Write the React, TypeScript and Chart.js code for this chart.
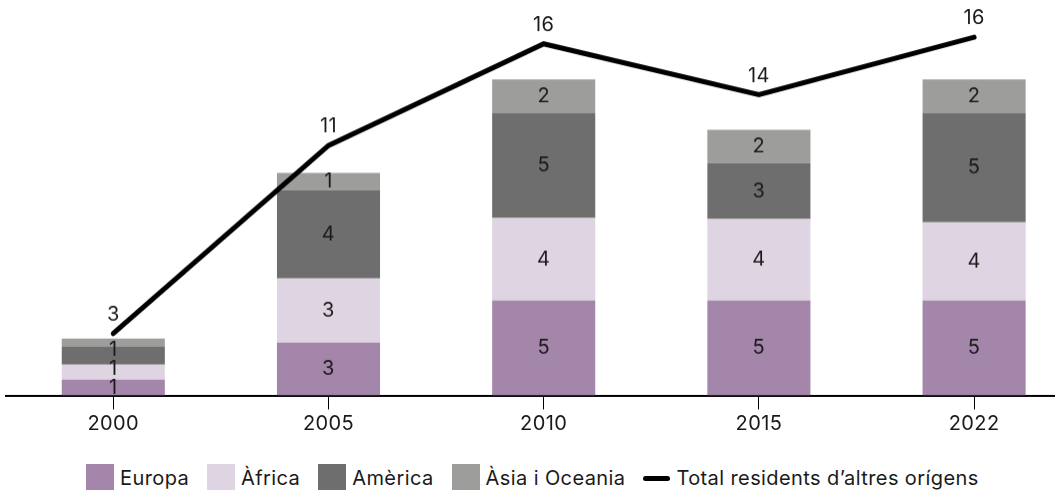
import React, { useEffect, useRef } from 'react';
import { Chart, registerables } from 'chart.js';

Chart.register(...registerables);

const categories = ['2000', '2005', '2010', '2015', '2022'];
const europa = [0.77, 2.59, 4.66, 4.65, 4.66];
const africa = [0.74, 3.15, 4.04, 4.0, 3.83];
const america = [0.87, 4.32, 5.16, 2.73, 5.37];
const asia = [0.41, 0.85, 1.63, 1.64, 1.63];
const total = [2.8, 11.3, 15.9, 13.6, 16.2];

const seriesNames = ['Europa', 'Àfrica', 'Amèrica', 'Àsia i Oceania'];
const lineName = 'Total residents d’altres orígens';
const colors = ['#a386aa', '#dfd4e2', '#6e6e6e', '#9d9d9b'];

const FONT = 'Inter, "Noto Sans", sans-serif';
const FONT_SIZE = 20;
const SPACING = '0.4px';
const TEXT = '#1a1a1a';

const spacingPlugin = {
  id: 'spacing',
  beforeDraw(chart: any) {
    try {
      chart.ctx.letterSpacing = SPACING;
    } catch (e) {}
  },
};

const labelPlugin = {
  id: 'valueLabels',
  afterDatasetsDraw(chart: any) {
    const ctx = chart.ctx;
    ctx.save();
    ctx.font = `${FONT_SIZE}px ${FONT}`;
    try {
      ctx.letterSpacing = SPACING;
    } catch (e) {}
    ctx.fillStyle = TEXT;
    ctx.textAlign = 'center';
    ctx.textBaseline = 'middle';
    const n = chart.data.labels.length;
    for (let i = 0; i < n; i++) {
      let lastY = Infinity;
      chart.data.datasets.forEach((ds: any, di: number) => {
        if (ds.type === 'line') return;
        const el = chart.getDatasetMeta(di).data[i];
        const v = Math.round(ds.data[i]);
        if (!v) return;
        let y = (el.y + el.base) / 2;
        if (y > lastY - 19) y = lastY - 19;
        ctx.fillText(String(v), el.x, y);
        lastY = y;
      });
    }
    chart.data.datasets.forEach((ds: any, di: number) => {
      if (ds.type !== 'line') return;
      const meta = chart.getDatasetMeta(di);
      meta.data.forEach((pt: any, i: number) => {
        ctx.fillText(String(Math.round(ds.data[i])), pt.x, pt.y - 19);
      });
    });
    ctx.restore();
  },
};

export default function App() {
  const ref = useRef<HTMLCanvasElement>(null);

  useEffect(() => {
    if (!ref.current) return;
    const chart = new Chart(ref.current, {
      type: 'bar',
      data: {
        labels: categories,
        datasets: [
          {
            type: 'line',
            label: lineName,
            data: total,
            yAxisID: 'y1',
            borderColor: '#000',
            borderWidth: 5,
            pointRadius: 0,
            tension: 0,
            borderCapStyle: 'round',
            borderJoinStyle: 'miter',
            fill: false,
            order: 0,
          } as any,
          ...[europa, africa, america, asia].map((d, k) => ({
            type: 'bar',
            label: seriesNames[k],
            data: d,
            backgroundColor: colors[k],
            borderWidth: 0,
            stack: 's',
            yAxisID: 'y',
            order: 1,
            barPercentage: 0.479,
            categoryPercentage: 1,
          })),
        ],
      },
      options: {
        animation: false,
        responsive: true,
        maintainAspectRatio: false,
        events: [],
        layout: { padding: { left: 5.7, right: 8.3, top: 10, bottom: 0 } },
        plugins: { legend: { display: false }, tooltip: { enabled: false } },
        scales: {
          x: {
            stacked: true,
            offset: true,
            grid: {
              display: true,
              drawOnChartArea: false,
              drawTicks: true,
              tickLength: 14,
              tickColor: '#000',
              tickWidth: 1,
              offset: false,
            },
            border: { display: true, color: '#000', width: 2 },
            ticks: { color: TEXT, padding: 2, font: { size: FONT_SIZE, family: FONT } },
          },
          y: { stacked: true, display: false, min: 0, max: 18.89 },
          y1: { display: false, min: 0, max: 17.43 },
        },
      },
      plugins: [spacingPlugin, labelPlugin],
    });
    return () => chart.destroy();
  }, []);

  const item = (swatch: React.ReactNode, text: string, last = false) => (
    <div key={text} style={{ display: 'flex', alignItems: 'center', marginRight: last ? 0 : 18 }}>
      {swatch}
      <span style={{ marginLeft: 6 }}>{text}</span>
    </div>
  );

  return (
    <div
      style={{
        position: 'fixed',
        left: 0,
        top: 0,
        width: 1055,
        height: 490,
        overflow: 'hidden',
        background: '#fff',
        fontFamily: FONT,
      }}
    >
      <div style={{ position: 'absolute', left: 0, top: 0, width: 1090, height: 436.5 }}>
        <canvas ref={ref} />
      </div>
      <div
        style={{
          position: 'absolute',
          left: 86,
          top: 464,
          height: 28,
          display: 'flex',
          alignItems: 'center',
          fontSize: FONT_SIZE,
          letterSpacing: SPACING,
          color: TEXT,
          whiteSpace: 'nowrap',
        }}
      >
        {seriesNames.map((n, k) =>
          item(<div style={{ width: 28, height: 28, background: colors[k] }} />, n)
        )}
        {item(
          <div style={{ width: 27, height: 5, borderRadius: 3, background: '#000' }} />,
          lineName,
          true
        )}
      </div>
    </div>
  );
}
